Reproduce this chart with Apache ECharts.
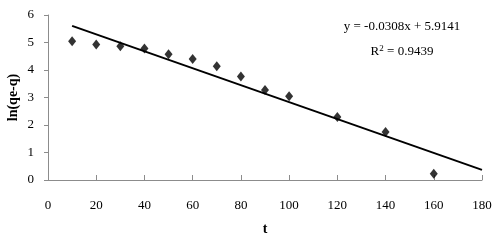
<!DOCTYPE html>
<html>
<head>
<meta charset="utf-8">
<script src="https://cdn.jsdelivr.net/npm/echarts@6/dist/echarts.min.js"></script>
<style>
  html, body { margin: 0; padding: 0; background: #fff; }
  #chart { width: 500px; height: 244px; }
</style>
</head>
<body>
<div id="chart"></div>
<script>
// measured points
var tValues = [10, 20, 30, 40, 50, 60, 70, 80, 90, 100, 120, 140, 160];
var lnValues = [5.05, 4.93, 4.86, 4.78, 4.57, 4.40, 4.14, 3.76, 3.27, 3.05, 2.29, 1.75, 0.23];
// trend line end points
var trendX = [10, 180];
var trendY = [5.606, 0.370];
var eqText = 'y = -0.0308x + 5.9141';
var r2Text = '0.9439';

var chart = echarts.init(document.getElementById('chart'));
var font = '"Liberation Serif", "Times New Roman", serif';
var axisGrey = '#8c8c8c';

chart.setOption({
    animation: false,
    backgroundColor: '#fff',
    grid: { left: 48, right: 18, top: 15, bottom: 64, outerBoundsMode: 'none' },
    xAxis: {
        type: 'value',
        min: 0, max: 180, interval: 20,
        name: 't',
        nameLocation: 'middle',
        nameGap: 42,
        nameMoveOverlap: false,
        nameTextStyle: { fontFamily: font, fontSize: 14, fontWeight: 'bold', color: '#000' },
        axisLine: { lineStyle: { color: axisGrey, width: 1 } },
        axisTick: { show: true, inside: true, length: 5, lineStyle: { color: axisGrey } },
        axisLabel: { fontFamily: font, fontSize: 13, color: '#000', margin: 19 },
        splitLine: { show: false }
    },
    yAxis: {
        type: 'value',
        min: 0, max: 6, interval: 1,
        name: 'ln(qe-q)',
        nameLocation: 'middle',
        nameGap: 28,
        nameMoveOverlap: false,
        nameTextStyle: { fontFamily: font, fontSize: 14, fontWeight: 'bold', color: '#000' },
        axisLine: { show: true, lineStyle: { color: axisGrey, width: 1 } },
        axisTick: { show: true, length: 4, lineStyle: { color: axisGrey } },
        axisLabel: { fontFamily: font, fontSize: 13, color: '#000', margin: 14 },
        splitLine: { show: false }
    },
    graphic: [
        {
            type: 'text', x: 402, y: 27,
            style: { text: eqText, font: '13px ' + font, fill: '#000', align: 'center', verticalAlign: 'middle' }
        },
        {
            type: 'text', x: 402, y: 52,
            style: {
                text: '{b|R}{s|2}{b| = ' + r2Text + '}',
                align: 'center', verticalAlign: 'middle',
                rich: {
                    b: { fontFamily: font, fontSize: 13, fill: '#000', color: '#000' },
                    s: { fontFamily: font, fontSize: 9, color: '#000', verticalAlign: 'top', padding: [0, 0, 6, 0] }
                }
            }
        }
    ],
    series: [
        {
            type: 'line',
            data: trendX.map(function (x, i) { return [x, trendY[i]]; }),
            showSymbol: false,
            lineStyle: { color: '#000', width: 2 },
            z: 2
        },
        {
            type: 'scatter',
            data: tValues.map(function (x, i) { return [x, lnValues[i]]; }),
            symbol: 'diamond',
            symbolSize: [8, 10],
            itemStyle: { color: '#000' },
            z: 3
        }
    ]
});
</script>
</body>
</html>
